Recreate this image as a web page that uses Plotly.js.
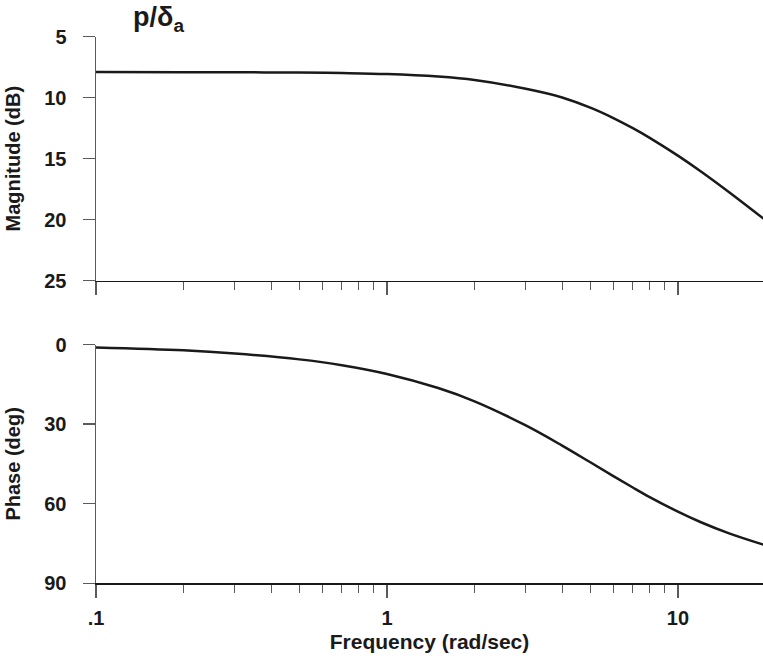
<!DOCTYPE html>
<html>
<head>
<meta charset="utf-8">
<script src="https://cdn.plot.ly/plotly-3.0.1.min.js"></script>
<style>html,body{margin:0;padding:0;background:#fff;}#chart{width:763px;height:661px;}</style>
</head>
<body>
<div id="chart"></div>
<script>
// Frequency (rad/sec) sample points
var frequency = [0.1, 0.2, 0.3, 0.5, 0.7, 1, 1.5, 2, 3, 4, 5, 6, 7, 8, 10, 12, 15, 20];
// Magnitude (dB)
var magnitude = [7.90, 7.91, 7.92, 7.94, 7.98, 8.06, 8.27, 8.55, 9.27, 9.98, 10.82, 11.67, 12.5, 13.29, 14.75, 16.05, 17.75, 20.04];
// Phase (deg)
var phase = [1.1, 2.2, 3.4, 5.6, 7.8, 11.1, 16.4, 21.4, 30.5, 38.1, 44.4, 49.6, 53.9, 57.5, 63.0, 67.0, 71.2, 75.7];

var xMajorVals = [0.1, 1, 10];
var xMajorText = ['.1', '1', '10'];
var xMinorVals = [0.2, 0.3, 0.4, 0.5, 0.6, 0.7, 0.8, 0.9, 2, 3, 4, 5, 6, 7, 8, 9];
var magTicks = [5, 10, 15, 20, 25];
var phaseTicks = [0, 30, 60, 90];

var FONT = 'Liberation Sans, Arial, Helvetica, sans-serif';
var gray = '#5a5a5a';
var black = '#1a1a1a';

function xAxis(anchor, labels) {
  return {
    type: 'log', range: [-1, 1.2925], anchor: anchor,
    showgrid: false, zeroline: false,
    showline: true, linecolor: black, linewidth: 1.5,
    ticks: 'outside', ticklen: 13, tickwidth: 1.5, tickcolor: gray,
    tickmode: 'array', tickvals: xMajorVals, ticktext: xMajorText,
    showticklabels: labels, ticklabelstandoff: 3,
    tickfont: {family: FONT, size: 20, color: black, weight: 'bold'},
    minor: {tickmode: 'array', tickvals: xMinorVals, ticks: 'outside', ticklen: 8, tickwidth: 1.2, tickcolor: gray, showgrid: false}
  };
}

function yAxis(anchor, domain, range, ticks, title) {
  return {
    anchor: anchor, domain: domain, range: range, autorange: false,
    showgrid: false, zeroline: false,
    showline: true, linecolor: gray, linewidth: 1.5,
    ticks: 'outside', ticklen: 12, tickwidth: 1.5, tickcolor: gray,
    tickmode: 'array', tickvals: ticks,
    ticklabelstandoff: 12,
    tickfont: {family: FONT, size: 20, color: black, weight: 'bold'},
    title: {text: title, standoff: 18, font: {family: FONT, size: 20, color: black, weight: 'bold'}}
  };
}

var traces = [
  {x: frequency, y: magnitude, xaxis: 'x', yaxis: 'y', mode: 'lines',
   line: {color: black, width: 2.5, shape: 'spline'}, hoverinfo: 'none'},
  {x: frequency, y: phase, xaxis: 'x2', yaxis: 'y2', mode: 'lines',
   line: {color: black, width: 2.5, shape: 'spline'}, hoverinfo: 'none'}
];

var xa2 = xAxis('y2', true);
xa2.title = {text: 'Frequency (rad/sec)', standoff: 6, font: {family: FONT, size: 21, color: black, weight: 'bold'}};

var layout = {
  width: 763, height: 661,
  margin: {l: 96, r: 0, t: 0, b: 0},
  paper_bgcolor: '#fff', plot_bgcolor: '#fff',
  showlegend: false,
  xaxis: xAxis('y', false),
  yaxis: yAxis('x', [0.5753, 0.9445], [25, 5], magTicks, 'Magnitude (dB)'),
  xaxis2: xa2,
  yaxis2: yAxis('x2', [0.1176, 0.4788], [90, 0], phaseTicks, 'Phase (deg)'),
  annotations: [{
    xref: 'paper', yref: 'paper', x: 0.052, y: 1.0, xanchor: 'left', yanchor: 'top',
    showarrow: false, text: 'p/δ<sub>a</sub>',
    font: {family: FONT, size: 27, color: black, weight: 'bold'}
  }]
};

Plotly.newPlot('chart', traces, layout, {staticPlot: true, displayModeBar: false});
</script>
</body>
</html>
